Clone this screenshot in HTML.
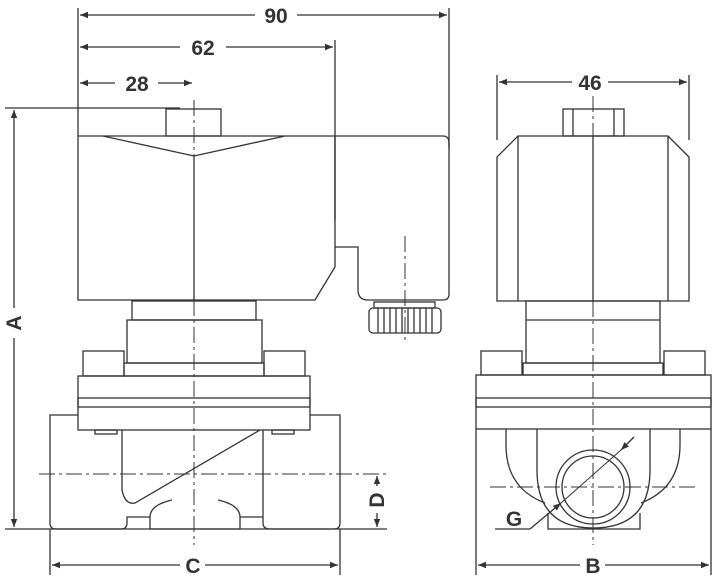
<!DOCTYPE html>
<html><head><style>body{margin:0;background:#fff}svg{display:block}text{font-family:"Liberation Sans",sans-serif;font-weight:bold;fill:#333}</style></head><body>
<svg width="719" height="580" viewBox="0 0 719 580" xmlns="http://www.w3.org/2000/svg">
<defs><marker id="a" viewBox="0 0 10 10" refX="10" refY="5" markerWidth="10" markerHeight="8" orient="auto-start-reverse" markerUnits="userSpaceOnUse"><path d="M0,1 L10,5 L0,9 Z" fill="#333"/></marker></defs>
<g fill="none" stroke="#333" stroke-width="1.3">
<line x1="78" y1="8" x2="78" y2="136"/><line x1="449" y1="8" x2="449" y2="148"/><line x1="335" y1="40" x2="335" y2="220"/>
<line x1="80" y1="15" x2="255" y2="15" marker-start="url(#a)"/><line x1="297" y1="15" x2="447" y2="15" marker-end="url(#a)"/>
<line x1="80" y1="47" x2="180" y2="47" marker-start="url(#a)"/><line x1="226" y1="47" x2="333" y2="47" marker-end="url(#a)"/>
<line x1="80" y1="83" x2="115" y2="83" marker-start="url(#a)"/><line x1="158" y1="83" x2="192" y2="83" marker-end="url(#a)"/>
<line x1="5" y1="108" x2="180" y2="108"/><line x1="5" y1="529" x2="387" y2="529"/>
<line x1="14" y1="110" x2="14" y2="308" marker-start="url(#a)"/><line x1="14" y1="338" x2="14" y2="527" marker-end="url(#a)"/>
<line x1="377" y1="476" x2="377" y2="486" marker-start="url(#a)"/><line x1="377" y1="513" x2="377" y2="527" marker-end="url(#a)"/>
<line x1="50" y1="529" x2="50" y2="575"/><line x1="340" y1="529" x2="340" y2="575"/>
<line x1="52" y1="565" x2="180" y2="565" marker-start="url(#a)"/><line x1="205" y1="565" x2="338" y2="565" marker-end="url(#a)"/>
<rect x="166" y="109" width="55" height="27"/>
<path d="M78,136 H335 V267 L315,300 H78 Z"/>
<path d="M103,136 L194,156 L285,136"/>
<line x1="194" y1="156" x2="194" y2="300"/>
<path d="M335,136 H443 Q449,136 449,143 V294 Q449,300 443,300 H368 Q358,300 358,290 V247 H335"/>
<rect x="374" y="302" width="61" height="6"/>
<rect x="369" y="308" width="72" height="25" rx="4"/>
<path d="M378,308v25M384,308v25M390,308v25M396,308v25M402,308v25M408,308v25M414,308v25M420,308v25M426,308v25M432,308v25"/>
<rect x="132" y="301" width="124" height="19"/>
<rect x="127" y="320" width="135" height="43"/>
<rect x="124" y="363" width="140" height="13"/>
<rect x="83" y="351" width="41" height="25"/><rect x="264" y="351" width="41" height="25"/>
<rect x="78" y="376" width="232" height="54"/><rect x="78" y="398" width="232" height="9"/>
<rect x="95" y="430" width="22" height="4"/><rect x="272" y="430" width="22" height="4"/>
<path d="M78,415 H50 V523 Q50,529 56,529 H121 Q127,529 127,523 V517 H150"/>
<path d="M310,415 H340 V523 Q340,529 334,529 H270 Q263,529 263,523 V430"/>
<path d="M122,430 V490 Q125,505 135,503 L260,430"/>
<path d="M263,517 H240 M150,529 V517 Q150,505 172,500 M240,529 V517 Q240,505 218,500 M150,529 H240"/>
<line x1="497" y1="75" x2="497" y2="140"/><line x1="689" y1="75" x2="689" y2="140"/>
<line x1="499" y1="82" x2="572" y2="82" marker-start="url(#a)"/><line x1="608" y1="82" x2="687" y2="82" marker-end="url(#a)"/>
<rect x="563" y="109" width="61" height="27"/><path d="M573,109v27M614,109v27"/>
<path d="M518,136 H668 L689,157 V301 H497 V157 Z M518,136 V301 M668,136 V301"/>
<line x1="593" y1="136" x2="593" y2="301"/>
<rect x="526" y="301" width="134" height="62"/><line x1="526" y1="320" x2="660" y2="320"/>
<rect x="523" y="363" width="140" height="12"/>
<rect x="481" y="351" width="41" height="24"/><rect x="664" y="351" width="41" height="24"/>
<rect x="476" y="375" width="235" height="54"/><rect x="476" y="398" width="235" height="9"/>
<line x1="476" y1="429" x2="476" y2="575"/><line x1="711" y1="429" x2="711" y2="575"/>
<line x1="478" y1="565" x2="580" y2="565" marker-start="url(#a)"/><line x1="605" y1="565" x2="709" y2="565" marker-end="url(#a)"/>
<path d="M506,429 V445 Q506,488 545,503 M680,429 V445 Q680,488 641,503"/>
<path d="M537,429 V470 Q537,528 593,528 Q650,528 650,470 V429"/>
<path d="M548,513 V529 H640 V513"/>
<circle cx="593" cy="487" r="37"/><circle cx="593" cy="487" r="31"/>
<line x1="495" y1="529" x2="530" y2="529"/>
<line x1="530" y1="529" x2="561" y2="503" marker-end="url(#a)"/>
<line x1="634" y1="437" x2="621" y2="450" marker-end="url(#a)"/>
<line x1="561" y1="503" x2="621" y2="450" stroke-width="1"/>
</g>
<g fill="none" stroke="#333" stroke-width="1" stroke-dasharray="16,4,3,4">
<line x1="194" y1="100" x2="194" y2="156"/>
<line x1="194" y1="300" x2="194" y2="545"/>
<line x1="405" y1="236" x2="405" y2="342"/>
<line x1="39" y1="474" x2="387" y2="474"/>
<line x1="593" y1="96" x2="593" y2="136"/>
<line x1="593" y1="301" x2="593" y2="545"/>
<line x1="490" y1="487" x2="697" y2="487"/>
</g>
<g font-size="21" text-anchor="middle">
<text x="276" y="23">90</text><text x="203" y="55">62</text><text x="137" y="91">28</text>
<text x="590" y="90">46</text><text x="593" y="573">B</text><text x="193" y="573">C</text>
<text x="514" y="526">G</text>
<text transform="translate(21,323) rotate(-90)">A</text>
<text transform="translate(384,500) rotate(-90)">D</text>
</g>
</svg>
</body></html>
